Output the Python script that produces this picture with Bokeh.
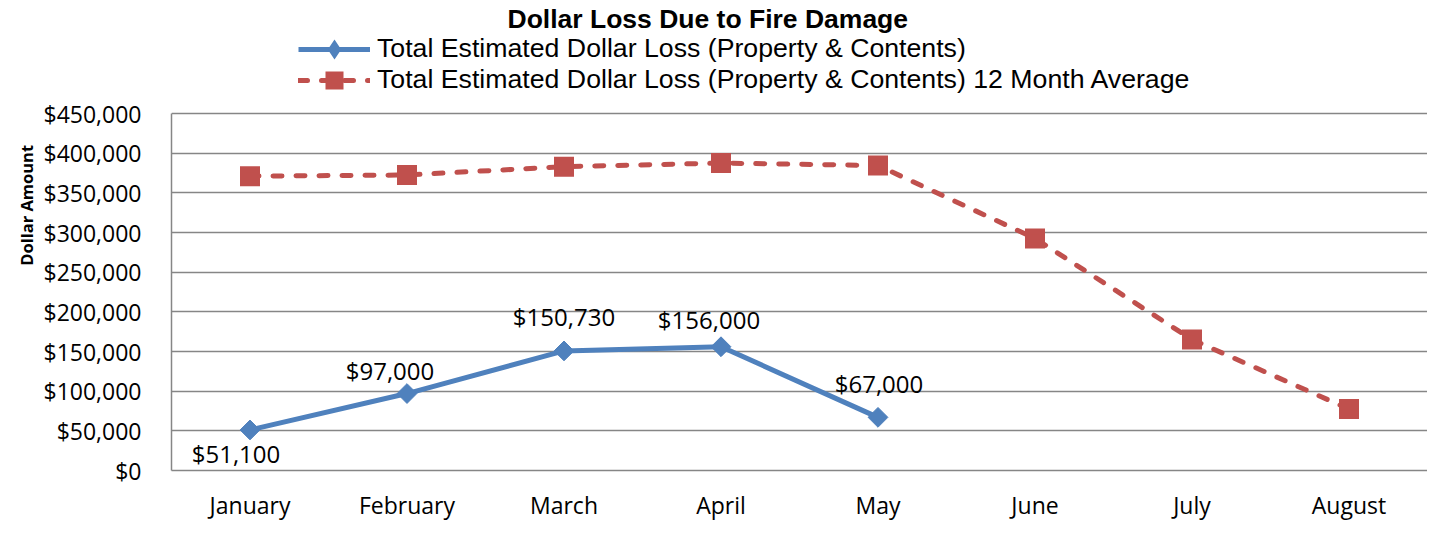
from math import pi
from bokeh.plotting import figure
from bokeh.models import (FactorRange, Range1d, NumeralTickFormatter, FixedTicker,
                          Legend, LegendItem, Title, LinearAxis, ColumnDataSource)
from bokeh.embed import file_html
from bokeh.resources import INLINE
from bokeh.core.properties import value

# ---- data ----
months = ["January", "February", "March", "April", "May", "June", "July", "August"]
loss_months = ["January", "February", "March", "April", "May"]
loss_values = [51100, 97000, 150730, 156000, 67000]
avg_values = [371000, 372500, 383000, 387500, 384500, 292500, 165000, 77500]
y_tick_interval = 50000
y_max = 450000

title_text = "Dollar Loss Due to Fire Damage"
series1_name = "Total Estimated Dollar Loss (Property & Contents)"
series2_name = "Total Estimated Dollar Loss (Property & Contents) 12 Month Average"
y_title = "Dollar Amount"

# ---- layout / style ----
label_dx = [-14, -17, 0, -12, 1]
label_dy = [24, -23, -34, -27, -34]

BLUE = "#4F81BD"
RED = "#C0504D"
GRID = "#868686"
CAL = "Open Sans"
ARIAL = "Liberation Sans"

W, H = 1427, 523
FL, FT, FB = 171, 34, 470      # frame left / top / bottom (px)
GRID_TOP = 113                 # pixel row of the top gridline
YT_PAD = "\u00a0" * 22         # lifts the y title above the frame centre

y_top = y_max * (FB - FT) / (FB - GRID_TOP)

p = figure(width=W, height=H, x_range=FactorRange(factors=months),
           y_range=Range1d(0, y_top), output_backend="svg", toolbar_location=None,
           min_border_left=FL, min_border_right=0, min_border_top=FT,
           min_border_bottom=H - FB)
p.title = Title(text=title_text, align="left", offset=336, text_font=ARIAL,
                text_font_style="bold", text_font_size="26.5px", text_color="black",
                standoff=2)
p.outline_line_color = None
p.background_fill_color = "white"
p.xgrid.grid_line_color = None
p.ygrid.grid_line_color = GRID
p.ygrid.grid_line_width = 1.5

p.yaxis.ticker = FixedTicker(ticks=list(range(0, y_max + 1, y_tick_interval)))
p.yaxis.formatter = NumeralTickFormatter(format="$0,0")
p.yaxis.bounds = (0, y_max)
for ax in (p.xaxis, p.yaxis):
    ax.major_tick_line_color = None
    ax.minor_tick_line_color = None
    ax.axis_line_color = GRID
    ax.axis_line_width = 1.5
    ax.major_label_text_font = CAL
    ax.major_label_text_font_size = "23px"
    ax.major_label_text_color = "black"
p.yaxis.major_label_standoff = 24
p.xaxis.major_label_standoff = 12

# y-axis title on its own label-only axis
p.extra_y_ranges = {"ytitle": Range1d(0, 1)}
ax_t = LinearAxis(y_range_name="ytitle", ticker=FixedTicker(ticks=[]),
                  axis_label=YT_PAD + y_title,
                  axis_line_color=None, major_tick_line_color=None,
                  minor_tick_line_color=None, axis_label_standoff=3,
                  axis_label_text_font=CAL, axis_label_text_font_style="bold",
                  axis_label_text_font_size="16.5px", axis_label_text_color="black")
p.add_layout(ax_t, "left")

src_avg = ColumnDataSource(dict(x=months, y=avg_values))
src_loss = ColumnDataSource(dict(x=loss_months, y=loss_values,
                                 t=[f"${v:,.0f}" for v in loss_values],
                                 dx=label_dx, dy=label_dy))

rl = p.line("x", "y", source=src_avg, line_color=RED, line_width=5,
            line_dash="9 14", line_cap="round")
rs = p.scatter("x", "y", source=src_avg, marker="square", size=14, line_width=6,
               line_join="miter", fill_color=RED, line_color=RED)
bl = p.line("x", "y", source=src_loss, line_color=BLUE, line_width=5)
# diamond used by the legend (legend ignores marker angle); hidden under the chart markers
bleg = p.scatter("x", "y", source=src_loss, marker="diamond", size=10, line_width=4.5,
                 line_join="miter", fill_color=BLUE, line_color=BLUE)
bs = p.scatter("x", "y", source=src_loss, marker="square", angle=pi / 4, size=14,
               fill_color=BLUE, line_color=BLUE)

p.text("x", "y", text="t", source=src_loss, x_offset="dx", y_offset="dy",
       text_align="center", text_baseline="middle", text_font=value(CAL),
       text_font_size="24px", text_color="black")

legend = Legend(items=[LegendItem(label=series1_name, renderers=[bl, bleg]),
                       LegendItem(label=series2_name, renderers=[rl, rs])],
                location=(127, FB - 35 - 60), orientation="vertical",
                glyph_width=72, glyph_height=30, label_height=30, spacing=0,
                padding=0, margin=0, border_line_color=None,
                background_fill_alpha=0, label_text_font=ARIAL,
                label_text_font_size="26.7px", label_text_color="black",
                label_standoff=7)
p.add_layout(legend)

open("out.html", "w").write(file_html(p, INLINE))
